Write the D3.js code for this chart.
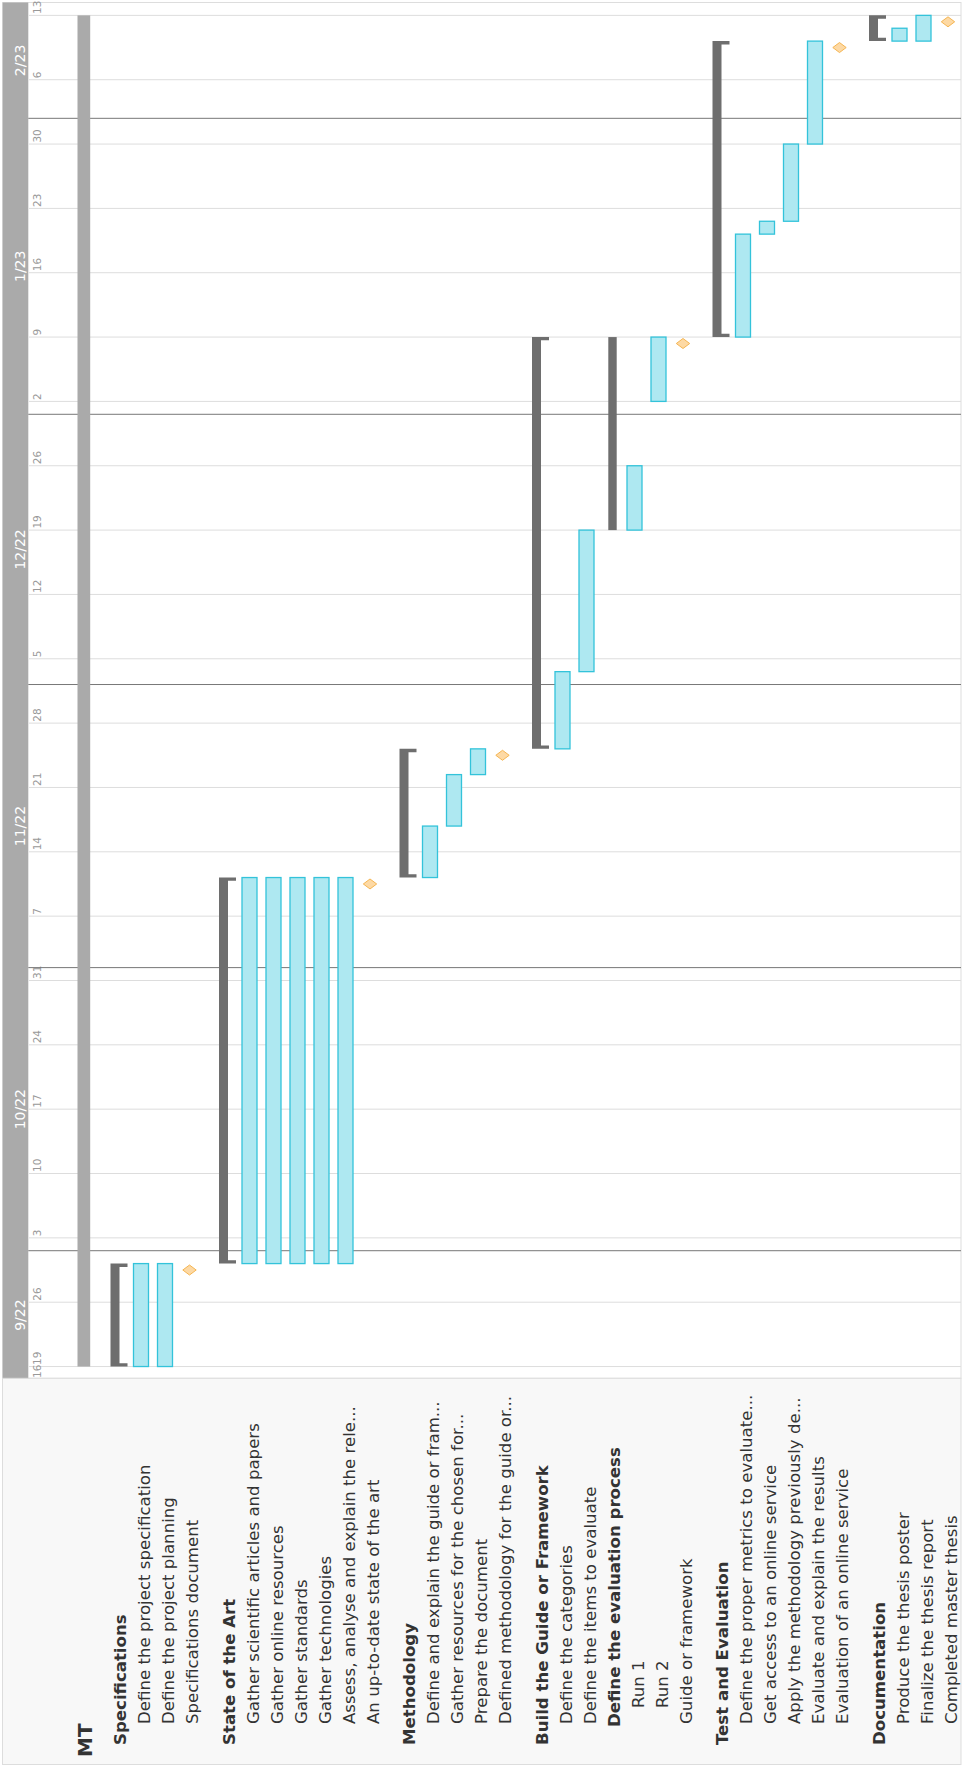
<!DOCTYPE html>
<html>
<head>
<meta charset="utf-8">
<script src="https://cdn.jsdelivr.net/npm/d3@7/dist/d3.min.js"></script>
<style>
  html, body { margin: 0; padding: 0; background: #fff; }
  svg { display: block; }
  text { font-family: "DejaVu Sans", sans-serif; }
</style>
</head>
<body>
<div id="chart"></div>
<script>
// Gantt chart drawn horizontally, then turned -90deg to match the portrait page
const W = 963, H = 1767

const parse = d3.timeParse('%Y-%m-%d')

// tasks, top to bottom
const taskNames = [
  'MT',
  'Specifications', 'Define the project specification', 'Define the project planning', 'Specifications document',
  'State of the Art', 'Gather scientific articles and papers', 'Gather online resources', 'Gather standards',
  'Gather technologies', 'Assess, analyse and explain the rele...', 'An up-to-date state of the art',
  'Methodology', 'Define and explain the guide or fram...', 'Gather resources for the chosen for...',
  'Prepare the document', 'Defined methodology for the guide or...',
  'Build the Guide or Framework', 'Define the categories', 'Define the items to evaluate',
  'Define the evaluation process', 'Run 1', 'Run 2', 'Guide or framework',
  'Test and Evaluation', 'Define the proper metrics to evaluate...', 'Get access to an online service',
  'Apply the methodology previously de...', 'Evaluate and explain the results', 'Evaluation of an online service',
  'Documentation', 'Produce the thesis poster', 'Finalize the thesis report', 'Completed master thesis'
]
const taskKinds = [
  'root',
  'group', 'task', 'task', 'milestone',
  'group', 'task', 'task', 'task', 'task', 'task', 'milestone',
  'group', 'task', 'task', 'task', 'milestone',
  'group', 'task', 'task', 'subgroup', 'subtask', 'subtask', 'milestone',
  'group', 'task', 'task', 'task', 'task', 'milestone',
  'group', 'task', 'task', 'milestone'
]
const taskStarts = [
  '2022-09-19',
  '2022-09-19', '2022-09-19', '2022-09-19', '2022-09-28',
  '2022-09-29', '2022-09-29', '2022-09-29', '2022-09-29', '2022-09-29', '2022-09-29', '2022-11-09',
  '2022-11-10', '2022-11-10', '2022-11-16', '2022-11-22', '2022-11-23',
  '2022-11-24', '2022-11-24', '2022-12-02', '2022-12-19', '2022-12-19', '2023-01-02', '2023-01-06',
  '2023-01-09', '2023-01-09', '2023-01-19', '2023-01-20', '2023-01-30', '2023-02-08',
  '2023-02-09', '2023-02-09', '2023-02-09', '2023-02-10'
]
const taskEnds = [
  '2023-02-10',
  '2022-09-28', '2022-09-28', '2022-09-28', '2022-09-28',
  '2022-11-09', '2022-11-09', '2022-11-09', '2022-11-09', '2022-11-09', '2022-11-09', '2022-11-09',
  '2022-11-23', '2022-11-15', '2022-11-21', '2022-11-23', '2022-11-23',
  '2023-01-06', '2022-12-01', '2022-12-16', '2023-01-06', '2022-12-23', '2023-01-06', '2023-01-06',
  '2023-02-08', '2023-01-18', '2023-01-19', '2023-01-27', '2023-02-08', '2023-02-08',
  '2023-02-10', '2023-02-09', '2023-02-10', '2023-02-10'
]

const domainStart = '2022-09-16'
const domainEnd = '2023-02-14'
const monthStarts = ['2022-09-01', '2022-10-01', '2022-11-01', '2022-12-01', '2023-01-01', '2023-02-01', '2023-03-01']

const t0 = parse(domainStart)
const t1 = parse(domainEnd)

// working-day index (weekends collapse onto the Friday before)
function wd(date) {
  if (date <= t0) return 0
  const n = d3.timeDay.range(t0, date).filter(d => d.getDay() % 6 !== 0).length
  return date.getDay() % 6 === 0 ? n - 1 : n
}

const total = wd(t1)
const x = d3.scaleLinear().domain([0, total]).range([387.6, 1764.5])

// row centres
const rowY = []
let yy = 84
taskKinds.forEach((k, i) => {
  if (i === 1) yy += 33
  else if (i > 0) yy += (k === 'group') ? 36.5 : 24
  rowY.push(yy)
})

const svg = d3.select('#chart').append('svg')
  .attr('width', W).attr('height', H)

const g = svg.append('g')
  .attr('transform', `translate(0,${H}) rotate(-90)`)

const right = 961

// chart frame
g.append('rect')
  .attr('x', 388.7).attr('y', 2.5)
  .attr('width', 1764.5 - 388.7).attr('height', right - 2.5)
  .attr('fill', '#fff').attr('stroke', '#ddd')

// month band
g.append('rect')
  .attr('x', x(0)).attr('y', 2.7)
  .attr('width', x(total) - x(0)).attr('height', 25.6)
  .attr('fill', '#aaa')

// week grid
const weekTicks = [t0].concat(d3.timeMonday.range(d3.timeDay.offset(t0, 1), t1))
g.selectAll('.grid').data(weekTicks).join('line')
  .attr('x1', d => x(wd(d))).attr('x2', d => x(wd(d)))
  .attr('y1', 29).attr('y2', right)
  .attr('stroke', '#ddd').attr('stroke-width', 1)

g.selectAll('.wlab').data(weekTicks).join('text')
  .attr('x', d => x(wd(d)) + 1.5).attr('y', 41)
  .style('font-size', '10.5px').style('fill', '#999')
  .text(d3.timeFormat('%-d'))

// month dividers and labels
const months = monthStarts.map(parse)
const spans = months.slice(0, -1).map((m, i) => {
  const a = Math.max(0, wd(m)), b = Math.min(total, wd(months[i + 1]))
  return { m, a, b }
})

g.selectAll('.mline').data(spans.filter(s => s.a > 0)).join('line')
  .attr('x1', d => x(d.a)).attr('x2', d => x(d.a))
  .attr('y1', 28.3).attr('y2', right)
  .attr('stroke', '#777').attr('stroke-width', 1)

g.selectAll('.mlab').data(spans).join('text')
  .attr('x', d => (x(d.a) + x(d.b)) / 2).attr('y', 25)
  .attr('text-anchor', 'middle')
  .style('font-size', '14px').style('fill', '#fff')
  .text(d => d3.timeFormat('%-m/%y')(d.m))

// bars
const rows = taskNames.map((name, i) => ({
  name, kind: taskKinds[i], c: rowY[i],
  a: wd(parse(taskStarts[i])), b: wd(parse(taskEnds[i])) + 1
}))

const bars = g.append('g')

rows.filter(r => r.kind === 'root').forEach(r => {
  bars.append('rect')
    .attr('x', x(r.a)).attr('y', r.c - 6.5)
    .attr('width', x(r.b) - x(r.a)).attr('height', 12.7)
    .attr('fill', '#aaa')
})

rows.filter(r => r.kind === 'group').forEach(r => {
  const x0 = x(r.a), x1 = x(r.b), top = r.c - 6.5
  bars.append('path')
    .attr('d', `M${x0},${top}H${x1}V${r.c + 10.5}H${x1 - 3.3}V${r.c + 2.5}H${x0 + 3.3}V${r.c + 10.5}H${x0}Z`)
    .attr('fill', '#6e6e6e')
})

rows.filter(r => r.kind === 'subgroup').forEach(r => {
  bars.append('rect')
    .attr('x', x(r.a)).attr('y', r.c - 2.2)
    .attr('width', x(r.b) - x(r.a)).attr('height', 8.4)
    .attr('fill', '#6e6e6e')
})

rows.filter(r => r.kind === 'task' || r.kind === 'subtask').forEach(r => {
  bars.append('rect')
    .attr('x', x(r.a)).attr('y', r.c - 7.5)
    .attr('width', x(r.b) - x(r.a)).attr('height', 15)
    .attr('fill', '#aee8f1')
    .attr('stroke', '#33c3da').attr('stroke-width', 1.3)
})

rows.filter(r => r.kind === 'milestone').forEach(r => {
  const cx = x(r.a + 0.5), cy = r.c + 0.5
  bars.append('path')
    .attr('d', `M${cx - 5},${cy}L${cx},${cy - 6.7}L${cx + 5},${cy}L${cx},${cy + 6.7}Z`)
    .attr('fill', '#fdd9a4')
    .attr('stroke', '#f5b552').attr('stroke-width', 1)
})

// task list panel
g.append('rect')
  .attr('x', 2.5).attr('y', 2.5)
  .attr('width', 388.7 - 2.5).attr('height', right - 2.5)
  .attr('fill', '#f8f8f8').attr('stroke', '#ddd')

const indent = { root: 10, group: 22, subgroup: 40, task: 43, milestone: 43, subtask: 59 }

g.selectAll('.tname').data(rows).join('text')
  .attr('x', d => indent[d.kind])
  .attr('y', d => d.kind === 'root' ? d.c + 8 : d.c + 9)
  .style('font-size', d => d.kind === 'root' ? '20px' : '16.6px')
  .style('font-weight', d => (d.kind === 'root' || d.kind.includes('group')) ? 'bold' : 'normal')
  .style('fill', '#333')
  .text(d => d.name)
</script>
</body>
</html>
